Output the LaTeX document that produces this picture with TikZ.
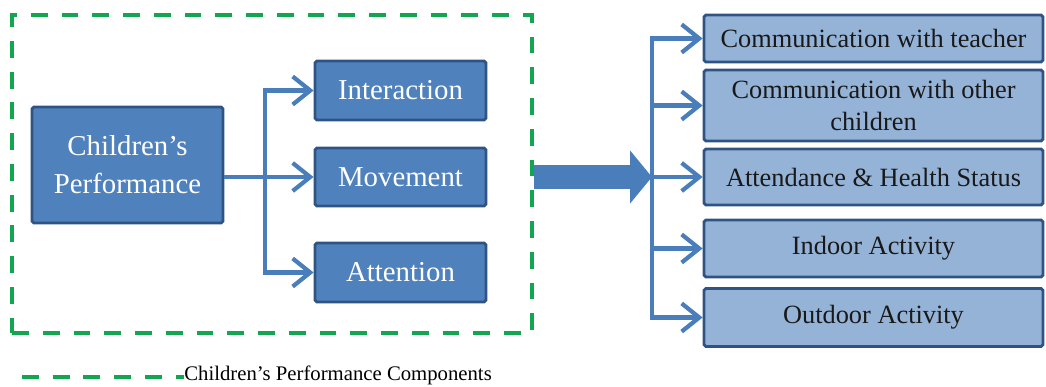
\documentclass[tikz,border=0pt]{standalone}
\usepackage{xcolor}
\usepackage{fontspec}
\setmainfont{Liberation Serif}
\usepackage{tikz}
\usetikzlibrary{calc}
\usetikzlibrary{arrows.meta}
\usetikzlibrary{positioning}
\definecolor{compgreen}{HTML}{12A650}
\definecolor{darkfill}{HTML}{4F81BD}
\definecolor{lightfill}{HTML}{95B3D7}
\definecolor{boxline}{HTML}{2F5484}
\definecolor{flowblue}{HTML}{4A7EBB}
\tikzset{>=latex}
\tikzstyle{compframe} = [draw=compgreen, line width=2.3pt, dash pattern=on 9.6pt off 7.9pt]
\tikzstyle{darkbox} = [rectangle, draw=boxline, fill=darkfill, line width=1.6pt, rounded corners=1pt, text=white, align=center, font=\fontsize{16.4}{21.5}\selectfont]
\tikzstyle{lightbox} = [rectangle, draw=boxline, fill=lightfill, line width=1.6pt, rounded corners=1pt, text=black!90, align=center, minimum width=6.78cm, font=\fontsize{15}{18}\selectfont]
\tikzstyle{flow} = [-{Straight Barb[length=10pt, width=16pt]}, draw=flowblue, line width=2.4pt]
\tikzstyle{bigflow} = [-{Triangle[length=0.44cm, width=1.04cm]}, draw=flowblue, line width=0.48cm]

\begin{document}
\begin{tikzpicture}[x=0.02cm, y=-0.02cm]
\useasboundingbox (0,0) rectangle (1046,386);
%node [draw=none] at (272,5) {components};
\node [compframe, minimum width=10.4cm, minimum height=6.36cm] (frame) at (272, 174) {};
\node [darkbox, minimum width=3.82cm, minimum height=2.32cm] (CP) at (127.5, 165) {Children’s\\Performance};
\node [darkbox, minimum width=3.42cm, minimum height=1.18cm] (Int) at (400.5, 90.5) {Interaction};
\node [darkbox, minimum width=3.42cm, minimum height=1.16cm] (Mov) at (400.5, 177) {Movement};
\node [darkbox, minimum width=3.42cm, minimum height=1.18cm] (Att) at (400.5, 272.5) {Attention};
\coordinate (fork) at (265, 177);
\draw [flow] (CP.east |- fork) -- (Mov.west);
\draw [flow] (fork) |- (Int.west);
\draw [flow] (fork) |- (Att.west);

\node [lightbox, minimum height=0.94cm] (R1) at (873.5, 38.5) {Communication with teacher};
\node [lightbox, minimum height=1.42cm] (R2) at (873.5, 105.5) {Communication with other\\children};
\node [lightbox, minimum height=1.12cm] (R3) at (873.5, 177) {Attendance \& Health Status};
\node [lightbox, minimum height=1.14cm] (R4) at (873.5, 248.5) {Indoor Activity};
\node [lightbox, minimum height=1.16cm] (R5) at (873.5, 317.5) {Outdoor Activity};
\coordinate (fork2) at (652, 177);
\draw [bigflow] (frame.east |- fork2) -- (fork2);
\foreach \r in {R1, R2, R3, R4, R5}
  \draw [flow] (fork2) |- (\r.west);

\coordinate (lg) at (22, 377);
\node [anchor=base west, inner sep=0, font=\fontsize{11.8}{14}\selectfont] (lgtext) at (184, 380.5) {Children’s Performance Components};
\draw [compframe] (lg) -- (lgtext.west |- lg);
\end{tikzpicture}
\end{document}
